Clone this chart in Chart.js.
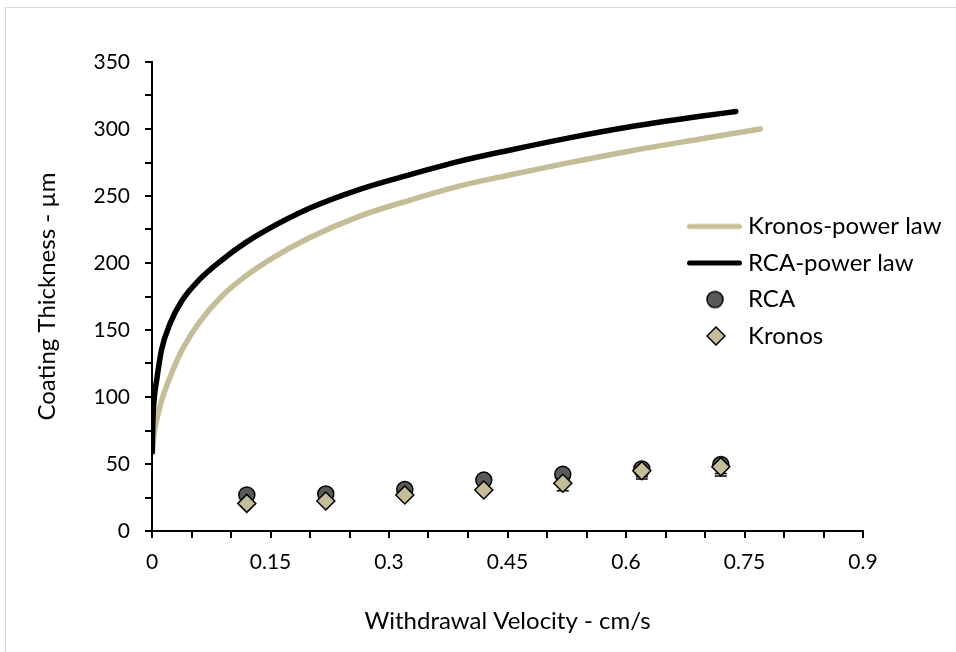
<!DOCTYPE html>
<html>
<head>
<meta charset="utf-8">
<script src="https://cdn.jsdelivr.net/npm/chart.js@4"></script>
<style>
  body { margin: 0; background: #fff; overflow: hidden; }
  #frame { position: absolute; left: 5px; top: 7px; width: 1000px; height: 700px; border: 1px solid #d9d9d9; }
  #plot { position: absolute; left: 0; top: 0; }
</style>
</head>
<body>
<div id="frame"></div>
<canvas id="plot" width="956" height="652"></canvas>
<script>
// measured points (cm/s, µm)
const velocity = [0.12, 0.22, 0.32, 0.42, 0.52, 0.62, 0.72];
const rcaThick = [26.9, 27.6, 31, 38, 42.3, 46.3, 49.7];
const rcaErr = [1, 1, 1.5, 2, 2.5, 5.8, 6.7];
const kronosThick = [20.6, 22.4, 26.9, 30.6, 35.6, 45, 48];
const kronosErr = [1, 1, 1.5, 2, 5.6, 6.2, 7];

// power law curves
const rcaFitX = [0.0003, 0.001, 0.003, 0.006, 0.012, 0.023, 0.038, 0.059, 0.088, 0.118, 0.143, 0.2, 0.263, 0.327, 0.39, 0.451, 0.525, 0.609, 0.694, 0.739];
const rcaFitY = [59, 80, 100, 113, 135, 155, 172, 187, 202, 215, 224, 241, 255, 266, 276, 284, 293, 302, 309.5, 313];
const kronosFitX = [0.0006, 0.002, 0.006, 0.012, 0.023, 0.038, 0.059, 0.088, 0.118, 0.1535, 0.2, 0.263, 0.327, 0.39, 0.451, 0.525, 0.609, 0.694, 0.77];
const kronosFitY = [59, 70, 83, 97, 115, 135, 155, 175, 190, 204, 219, 235, 247, 257.5, 265.5, 274.5, 284, 292.5, 300];

const xTickLabels = ['0', '0.15', '0.3', '0.45', '0.6', '0.75', '0.9'];
const yTickLabels = ['0', '50', '100', '150', '200', '250', '300', '350'];

const tan = '#C4BD97';
const gray = '#595959';

const pts = (xs, ys) => xs.map((v, i) => ({ x: v, y: ys[i] }));

function makeIcon(draw) {
    const c = document.createElement('canvas');
    c.width = 68;
    c.height = 24;
    draw(c.getContext('2d'));
    return c;
}
function lineIcon(color) {
    return makeIcon(g => {
        g.strokeStyle = color;
        g.lineWidth = 5;
        g.lineCap = 'round';
        g.beginPath();
        g.moveTo(12.5, 12);
        g.lineTo(62.5, 12);
        g.stroke();
    });
}
const legendIcons = [
    lineIcon(tan),
    lineIcon('#000'),
    makeIcon(g => {
        g.fillStyle = gray;
        g.strokeStyle = '#000';
        g.lineWidth = 1.5;
        g.beginPath();
        g.arc(38, 12, 8, 0, Math.PI * 2);
        g.fill();
        g.stroke();
    }),
    makeIcon(g => {
        g.fillStyle = tan;
        g.strokeStyle = '#000';
        g.lineWidth = 1.5;
        g.beginPath();
        g.moveTo(30, 12);
        g.lineTo(39, 3);
        g.lineTo(48, 12);
        g.lineTo(39, 21);
        g.closePath();
        g.fill();
        g.stroke();
    })
];

// put the legend inside the plot, right side
const legendSpot = {
    id: 'legendSpot',
    afterLayout(chart) {
        const lg = chart.legend;
        lg.left = 673.5;
        lg.top = 202;
        lg.right = 956;
        lg.bottom = 420;
        lg.width = lg.right - lg.left;
        lg.height = lg.bottom - lg.top;
    }
};

// minus-only error bars under the markers
const errorBars = {
    id: 'errorBars',
    beforeDatasetsDraw(chart) {
        const { ctx, scales: { x, y } } = chart;
        ctx.save();
        ctx.strokeStyle = '#000';
        ctx.lineWidth = 1.5;
        [[rcaThick, rcaErr], [kronosThick, kronosErr]].forEach(([ys, es]) => {
            velocity.forEach((v, i) => {
                const px = x.getPixelForValue(v);
                const p0 = y.getPixelForValue(ys[i]);
                const p1 = y.getPixelForValue(ys[i] - es[i]);
                ctx.beginPath();
                ctx.moveTo(px, p0);
                ctx.lineTo(px, p1);
                ctx.moveTo(px - 6, p1);
                ctx.lineTo(px + 6, p1);
                ctx.stroke();
            });
        });
        ctx.restore();
    }
};

Chart.defaults.font.family = 'Lato, sans-serif';
Chart.defaults.color = '#000';

new Chart(document.getElementById('plot'), {
    type: 'scatter',
    data: {
        datasets: [{
            label: 'Kronos-power law',
            data: pts(kronosFitX, kronosFitY),
            showLine: true,
            borderColor: tan,
            backgroundColor: tan,
            borderWidth: 5.5,
            borderCapStyle: 'round',
            pointRadius: 0,
            cubicInterpolationMode: 'monotone',
            order: 4
        }, {
            label: 'RCA-power law',
            data: pts(rcaFitX, rcaFitY),
            showLine: true,
            borderColor: '#000',
            backgroundColor: '#000',
            borderWidth: 5.5,
            borderCapStyle: 'round',
            pointRadius: 0,
            cubicInterpolationMode: 'monotone',
            order: 3
        }, {
            label: 'RCA',
            data: pts(velocity, rcaThick),
            pointStyle: 'circle',
            pointRadius: 8,
            pointBackgroundColor: gray,
            pointBorderColor: '#000',
            pointBorderWidth: 1.5,
            order: 2
        }, {
            label: 'Kronos',
            data: pts(velocity, kronosThick),
            pointStyle: 'rectRot',
            pointRadius: 9,
            pointBackgroundColor: tan,
            pointBorderColor: '#000',
            pointBorderWidth: 1.5,
            order: 1
        }]
    },
    options: {
        responsive: false,
        animation: false,
        events: [],
        layout: { padding: { left: 0, top: 62, right: 93, bottom: 0 } },
        plugins: {
            tooltip: { enabled: false },
            legend: {
                position: 'chartArea',
                align: 'start',
                labels: {
                    usePointStyle: true,
                    pointStyleWidth: 50,
                    font: { size: 24 },
                    padding: 12.5,
                    color: '#000',
                    sort: (a, b) => a.datasetIndex - b.datasetIndex,
                    generateLabels(chart) {
                        const items = Chart.defaults.plugins.legend.labels.generateLabels(chart);
                        items.forEach(it => { it.pointStyle = legendIcons[it.datasetIndex]; });
                        return items;
                    }
                }
            }
        },
        scales: {
            x: {
                type: 'linear',
                min: 0,
                max: 0.9,
                afterFit: s => { s.height = 121; },
                border: { color: '#000', width: 2 },
                grid: { drawOnChartArea: false, drawTicks: true, tickLength: 7, color: '#000', lineWidth: 2 },
                ticks: {
                    stepSize: 0.05,
                    autoSkip: false,
                    maxRotation: 0,
                    padding: 12,
                    font: { size: 21 },
                    callback: (v, i) => (i % 3 === 0 ? xTickLabels[i / 3] : '')
                },
                title: {
                    display: true,
                    text: 'Withdrawal Velocity - cm/s',
                    font: { size: 24 },
                    padding: { top: 0, bottom: 16 }
                }
            },
            y: {
                min: 0,
                max: 350,
                afterFit: s => { s.width = 152; },
                border: { color: '#000', width: 2 },
                grid: { drawOnChartArea: false, drawTicks: true, tickLength: 7, color: '#000', lineWidth: 2 },
                ticks: {
                    stepSize: 25,
                    autoSkip: false,
                    padding: 15,
                    font: { size: 21 },
                    callback: (v, i) => (i % 2 === 0 ? yTickLabels[i / 2] : '')
                },
                title: {
                    display: true,
                    text: 'Coating Thickness - µm',
                    font: { size: 24 },
                    padding: { top: 33, bottom: 0 }
                }
            }
        }
    },
    plugins: [legendSpot, errorBars]
});
</script>
</body>
</html>
